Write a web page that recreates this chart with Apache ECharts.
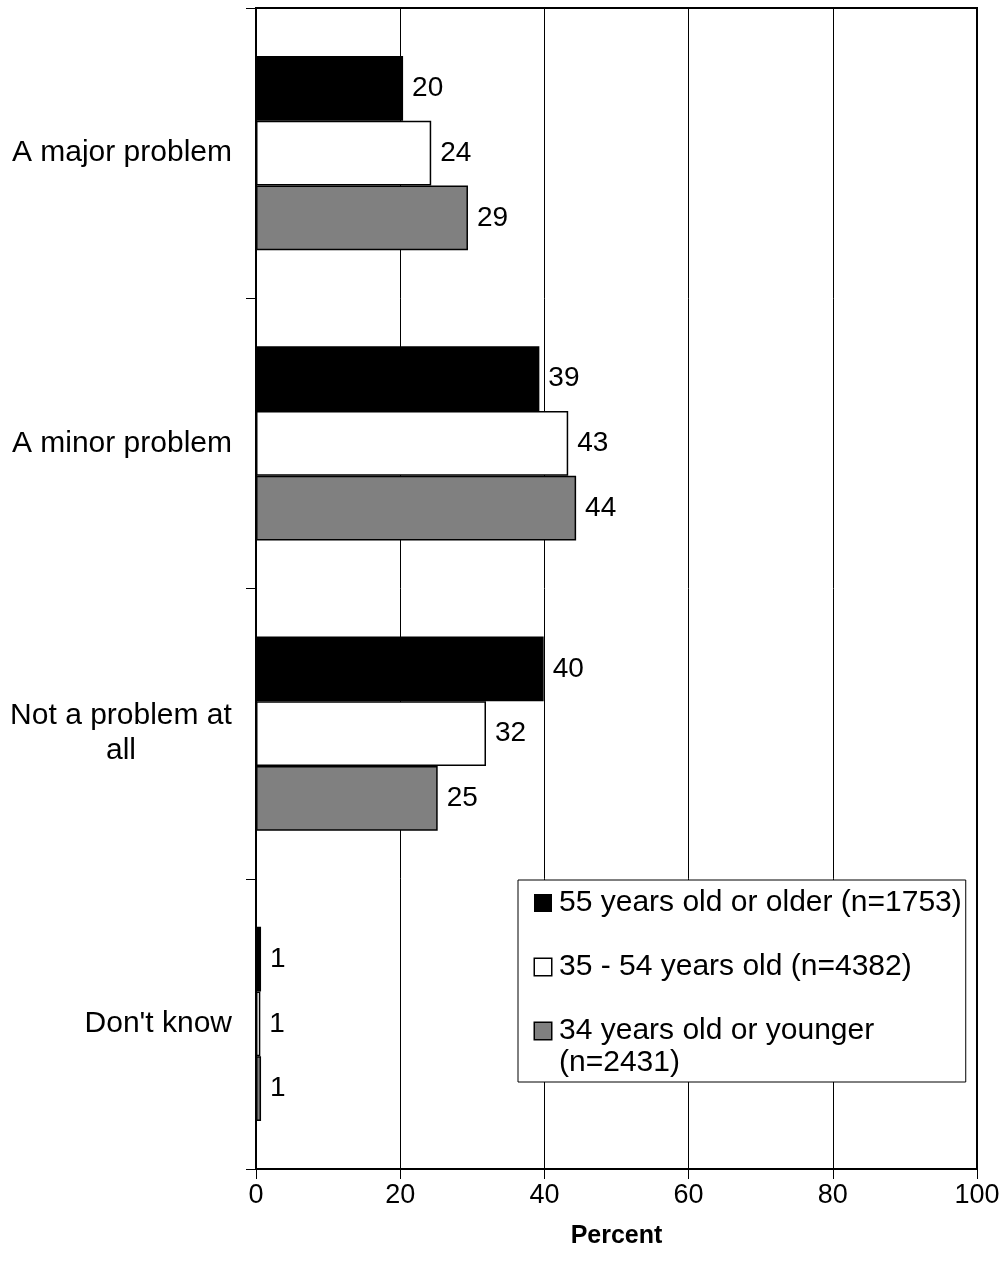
<!DOCTYPE html>
<html>
<head>
<meta charset="utf-8">
<script src="https://cdn.jsdelivr.net/npm/echarts@6/dist/echarts.min.js"></script>
<style>html,body{margin:0;padding:0;background:#fff}#c{width:1008px;height:1279px}</style>
</head>
<body>
<div id="c"></div>
<script>
var categories = ["A major problem", "A minor problem", "Not a problem at all", "Don't know"];
var seriesNames = ["55 years old or older (n=1753)", "35 - 54 years old (n=4382)", "34 years old or younger (n=2431)"];
var older = [20.4, 39.3, 39.9, 0.7];
var middle = [24.3, 43.3, 31.9, 0.6];
var younger = [29.4, 44.4, 25.2, 0.7];
var xTicks = [0, 20, 40, 60, 80, 100];

var FONT = '"Liberation Sans", Arial, sans-serif';
var chart = echarts.init(document.getElementById('c'));

function mkSeries(name, data, color) {
  return {
    name: name,
    type: 'bar',
    data: data,
    barCategoryGap: '33%',
    barGap: '0%',
    itemStyle: { color: color, borderColor: '#000', borderWidth: 1.5 },
    label: {
      show: true, position: 'right', distance: 9,
      color: '#000', fontFamily: FONT, fontSize: 28,
      formatter: function (p) { return Math.round(p.value); }
    }
  };
}

var legendFormat = {};
legendFormat[seriesNames[0]] = '{k|}{t|55 years old or older (n=1753)}';
legendFormat[seriesNames[1]] = '{w|}{t|35 - 54 years old (n=4382)}';
legendFormat[seriesNames[2]] = '{g|}{t|34 years old or younger}\n{t2|(n=2431)}';

chart.setOption({
  animation: false,
  backgroundColor: '#fff',
  grid: { left: 256, right: 31, top: 8, bottom: 110, show: true, borderColor: '#000', borderWidth: 2, containLabel: false },
  xAxis: {
    type: 'value', min: 0, max: 100, interval: 20,
    name: 'Percent', nameLocation: 'middle', nameGap: 55,
    nameTextStyle: { fontFamily: FONT, fontSize: 25, fontWeight: 'bold', color: '#000' },
    axisLine: { show: true, lineStyle: { color: '#000', width: 2 } },
    axisTick: { show: true, length: 10, lineStyle: { color: '#000', width: 1 } },
    axisLabel: { fontFamily: FONT, fontSize: 27, color: '#000', margin: 13,
      formatter: function (v) { return xTicks.indexOf(v) >= 0 ? String(v) : ''; } },
    splitLine: { show: true, lineStyle: { color: '#000', width: 1 } }
  },
  yAxis: {
    type: 'category', data: categories, inverse: true,
    axisLine: { show: true, lineStyle: { color: '#000', width: 2 } },
    axisTick: { show: true, length: 10, lineStyle: { color: '#000', width: 1 } },
    axisLabel: {
      fontFamily: FONT, fontSize: 30, color: '#000', margin: 24,
      formatter: function (v) {
        if (v === 'Not a problem at all') return '{c|Not a problem at}\n{c|all}';
        return v;
      },
      rich: { c: { fontFamily: FONT, fontSize: 30, color: '#000', width: 222, align: 'center', lineHeight: 35 } }
    }
  },
  legend: {
    orient: 'vertical', left: 518, top: 880,
    data: seriesNames,
    backgroundColor: '#fff', borderColor: '#000', borderWidth: 1,
    padding: [8, 4, 4, 11],
    itemGap: 34, itemWidth: 0, itemHeight: 0,
    selectedMode: false,
    formatter: function (n) { return legendFormat[n]; },
    textStyle: {
      fontFamily: FONT, fontSize: 30, color: '#000',
      rich: {
        k: { width: 16, height: 16, backgroundColor: '#000', borderColor: '#000', borderWidth: 1 },
        w: { width: 16, height: 16, backgroundColor: '#fff', borderColor: '#000', borderWidth: 1.5 },
        g: { width: 16, height: 16, backgroundColor: '#808080', borderColor: '#000', borderWidth: 1.5 },
        t: { fontFamily: FONT, fontSize: 30, color: '#000', lineHeight: 32, padding: [0, 0, 0, 8] },
        t2: { fontFamily: FONT, fontSize: 30, color: '#000', lineHeight: 32, padding: [0, 0, 0, 24] }
      }
    }
  },
  series: [
    mkSeries(seriesNames[0], older, '#000000'),
    mkSeries(seriesNames[1], middle, '#ffffff'),
    mkSeries(seriesNames[2], younger, '#808080')
  ]
});
</script>
</body>
</html>
